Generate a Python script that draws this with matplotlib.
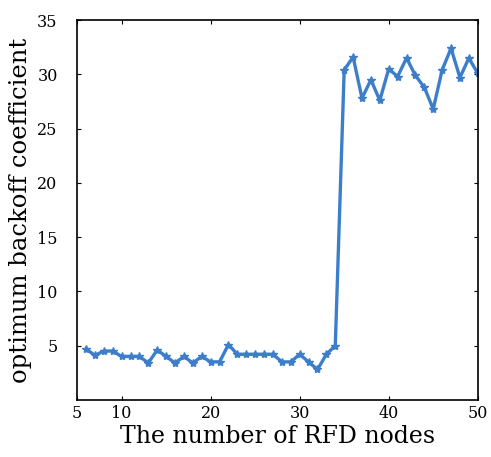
import matplotlib
matplotlib.use("Agg")
import matplotlib.pyplot as plt

# Number of RFD nodes and the optimum backoff coefficient found for each
nodes = list(range(6, 51))
backoff = [
    4.7, 4.1, 4.5, 4.5, 4.0, 4.0, 4.0, 3.4, 4.6, 4.0,
    3.4, 4.0, 3.4, 4.0, 3.5, 3.5, 5.1, 4.2, 4.2, 4.2,
    4.2, 4.2, 3.5, 3.5, 4.2, 3.5, 2.8, 4.2, 5.0,
    30.4, 31.6, 27.8, 29.5, 27.6, 30.5, 29.8, 31.5, 29.9, 28.8,
    26.8, 30.4, 32.4, 29.7, 31.5, 30.1,
]

xticks = [5, 10, 20, 30, 40, 50]
yticks = [5, 10, 15, 20, 25, 30, 35]

plt.rcParams["font.family"] = ["DejaVu Serif", "Liberation Serif"]

fig = plt.figure(figsize=(4.91, 4.57), dpi=100)
ax = fig.add_axes([0.157, 0.125, 0.816, 0.831])

ax.plot(nodes, backoff, color="#3d7ecb", linewidth=2.4,
        marker="*", markersize=6, markeredgewidth=1.0)

ax.set_xlim(5, 50)
ax.set_ylim(0, 35)
ax.set_xticks(xticks)
ax.set_yticks(yticks)
ax.tick_params(direction="in", top=True, right=True, length=3,
               labelsize=11.5, width=0.8)
ax.tick_params(axis="y", pad=14)
for s in ax.spines.values():
    s.set_linewidth(1.2)

ax.set_xlabel("The number of RFD nodes", fontsize=17, labelpad=2)
ax.set_ylabel("optimum backoff coefficient", fontsize=17.5, labelpad=4)

fig.savefig("out.png", dpi=100)
